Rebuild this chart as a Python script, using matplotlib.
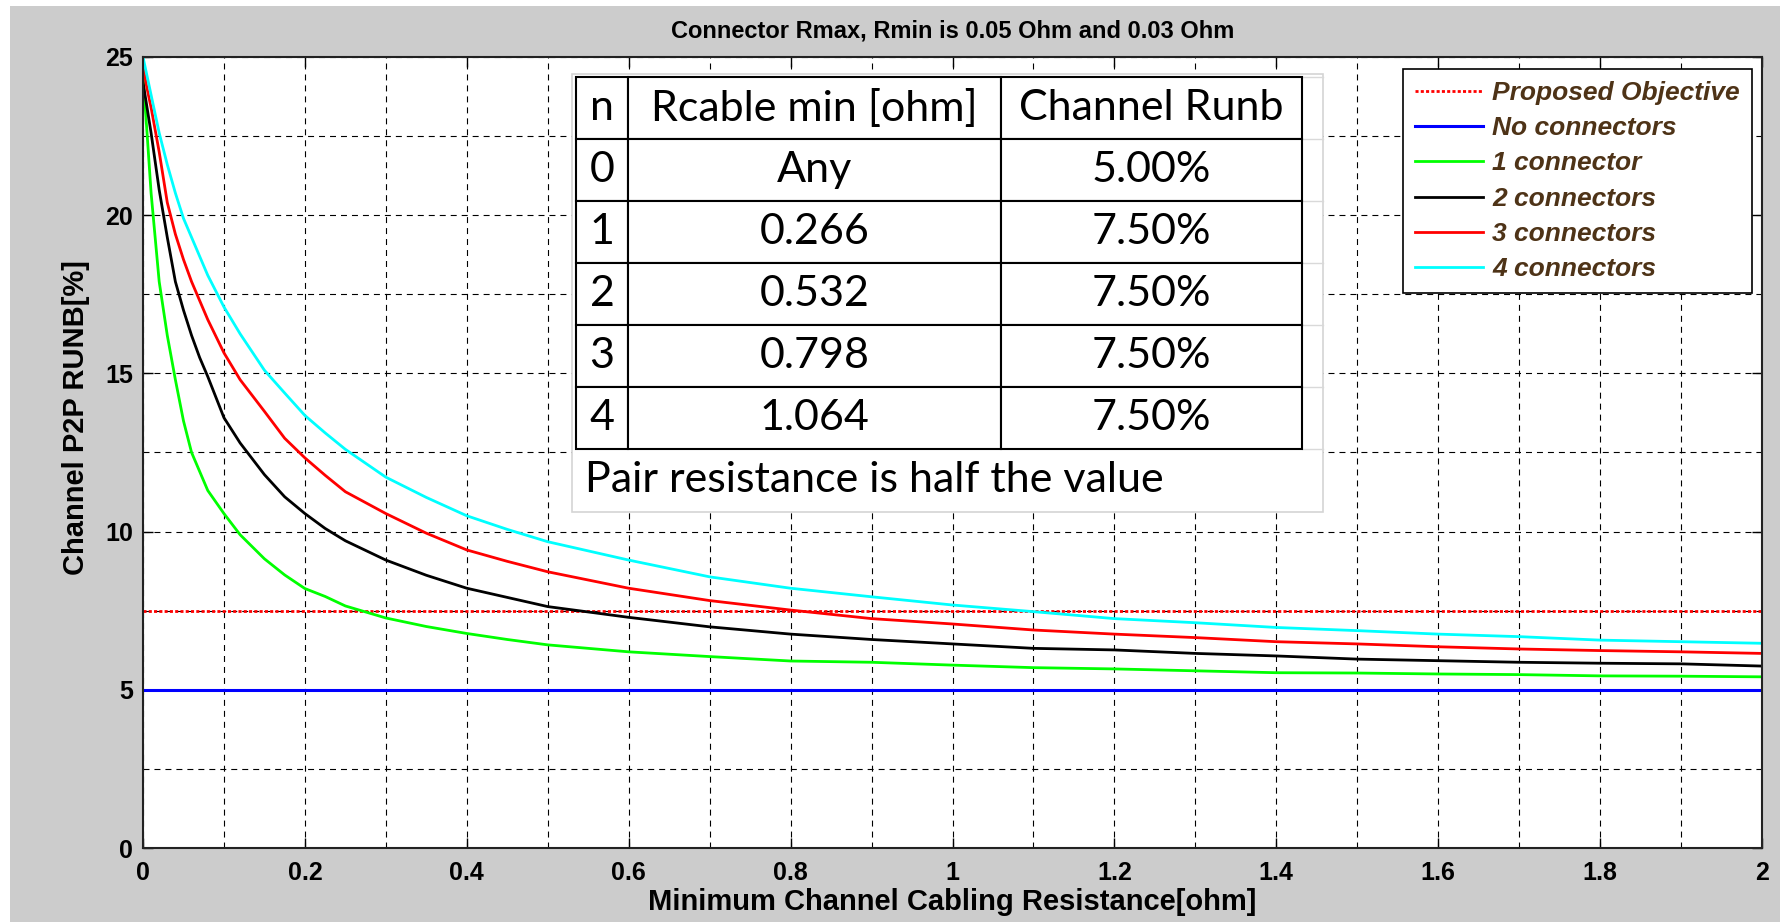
import matplotlib
matplotlib.use("Agg")
import matplotlib.pyplot as plt
from matplotlib.patches import Rectangle
from matplotlib.ticker import MultipleLocator

# values
r_cable = [0, 0.005, 0.01, 0.02, 0.03, 0.04, 0.05, 0.06, 0.07, 0.08, 0.1, 0.12, 0.15,
           0.175, 0.2, 0.225, 0.25, 0.3, 0.35, 0.4, 0.45, 0.5, 0.6, 0.7, 0.8, 0.9, 1.0,
           1.1, 1.2, 1.3, 1.4, 1.5, 1.6, 1.7, 1.8, 1.9, 2.0]

runb_1conn = [24.4, 22.6, 20.7, 17.9, 16.2, 14.8, 13.5, 12.5, 11.9, 11.3, 10.57, 9.9, 9.14,
              8.63, 8.2, 7.95, 7.65, 7.27, 7.0, 6.78, 6.59, 6.42, 6.2, 6.05, 5.91, 5.87, 5.78,
              5.70, 5.66, 5.60, 5.54, 5.53, 5.50, 5.48, 5.44, 5.43, 5.41]
runb_2conn = [24.2, 23.4, 22.6, 20.8, 19.3, 17.9, 17.0, 16.2, 15.5, 14.9, 13.6, 12.8, 11.8,
              11.1, 10.57, 10.1, 9.71, 9.1, 8.62, 8.21, 7.92, 7.63, 7.29, 6.99, 6.76, 6.59, 6.45,
              6.31, 6.26, 6.15, 6.07, 5.97, 5.92, 5.87, 5.84, 5.82, 5.75]
runb_3conn = [24.7, 24.0, 23.4, 22.0, 20.4, 19.4, 18.6, 17.9, 17.3, 16.7, 15.65, 14.8, 13.8,
              12.95, 12.33, 11.78, 11.26, 10.57, 9.95, 9.42, 9.06, 8.73, 8.21, 7.82, 7.52, 7.25,
              7.08, 6.89, 6.76, 6.65, 6.52, 6.45, 6.36, 6.29, 6.24, 6.20, 6.15]
runb_4conn = [25.0, 24.4, 23.8, 22.6, 21.6, 20.7, 19.9, 19.3, 18.7, 18.1, 17.1, 16.25, 15.1,
              14.38, 13.67, 13.12, 12.6, 11.72, 11.08, 10.5, 10.07, 9.68, 9.10, 8.57, 8.21, 7.94,
              7.68, 7.47, 7.25, 7.12, 6.97, 6.87, 6.76, 6.68, 6.57, 6.52, 6.47]

x_range = [0, 2]
runb_no_conn = [5.0, 5.0]
objective = [7.5, 7.5]

labels = ["Proposed Objective", "No connectors", "1 connector", "2 connectors",
          "3 connectors", "4 connectors"]

# the table in the picture
table_rows = [["n", "Rcable min [ohm]", "Channel Runb"],
              ["0", "Any", "5.00%"],
              ["1", "0.266", "7.50%"],
              ["2", "0.532", "7.50%"],
              ["3", "0.798", "7.50%"],
              ["4", "1.064", "7.50%"]]
table_note = "Pair resistance is half the value"

plt.rcParams["font.family"] = ["Liberation Sans", "DejaVu Sans"]
plt.rcParams["lines.scale_dashes"] = False

W, H = 1780, 922
fig = plt.figure(figsize=(W / 100, H / 100), dpi=100, facecolor="white")
fig.patches.append(Rectangle((10 / W, 0), 1, 1 - 6 / H, transform=fig.transFigure,
                             facecolor="#cccccc", edgecolor="none", zorder=-10))

ax_l, ax_r, ax_t, ax_b = 143, 1762, 57, 848
ax = fig.add_axes([ax_l / W, 1 - ax_b / H, (ax_r - ax_l) / W, (ax_b - ax_t) / H])
ax.set_facecolor("white")

ax.plot(x_range, objective, color="red", lw=2.0, linestyle=(0, (2.2, 1.6)), label=labels[0])
ax.plot(x_range, runb_no_conn, color="blue", lw=2.2, label=labels[1])
ax.plot(r_cable, runb_1conn, color="#00ff00", lw=2.0, label=labels[2])
ax.plot(r_cable, runb_2conn, color="black", lw=2.0, label=labels[3])
ax.plot(r_cable, runb_3conn, color="red", lw=2.0, label=labels[4])
ax.plot(r_cable, runb_4conn, color="cyan", lw=2.0, label=labels[5])

ax.set_xlim(0, 2)
ax.set_ylim(0, 25)
ax.xaxis.set_major_locator(MultipleLocator(0.2))
ax.xaxis.set_minor_locator(MultipleLocator(0.1))
ax.yaxis.set_major_locator(MultipleLocator(5))
ax.yaxis.set_minor_locator(MultipleLocator(2.5))
ax.xaxis.set_major_formatter(plt.FuncFormatter(lambda v, p: "%g" % round(v, 2)))

ax.grid(True, which="both", color="black", lw=0.8, linestyle=(0, (4.3, 3.6)))
ax.set_axisbelow(True)
ax.tick_params(which="major", direction="in", length=7, width=1.0, top=True, right=True,
               labelsize=18, pad=7)
ax.tick_params(which="minor", direction="in", length=0, top=True, right=True)
ax.tick_params(axis="x", pad=9)
for t in ax.get_xticklabels() + ax.get_yticklabels():
    t.set_fontweight("bold")
for s in ax.spines.values():
    s.set_linewidth(1.5)
    s.set_color("#222222")

fig.text((ax_l + ax_r) / 2 / W, 1 - 31 / H, "Connector Rmax, Rmin is 0.05 Ohm and 0.03 Ohm",
         ha="center", va="center", fontsize=17, fontweight="bold")
fig.text((ax_l + ax_r) / 2 / W, 1 - 902 / H, "Minimum Channel Cabling Resistance[ohm]",
         ha="center", va="center", fontsize=21, fontweight="bold")
fig.text(76 / W, 1 - 418 / H, "Channel P2P RUNB[%]", ha="center", va="center",
         rotation=90, fontsize=21, fontweight="bold")

leg = ax.legend(loc="upper right", bbox_to_anchor=(0.9938, 0.985), borderaxespad=0,
                fancybox=False, framealpha=1, edgecolor="black", handlelength=2.6,
                handletextpad=0.35, labelspacing=0.43, borderpad=0.45,
                prop={"family": "Liberation Sans", "weight": "bold", "style": "italic",
                      "size": 19},
                labelcolor="#4e3317")
leg.get_frame().set_linewidth(1.2)

# white excel-like box behind the table
def ax_x(px):
    return (px - ax_l) / (ax_r - ax_l)

def ax_y(py):
    return (ax_b - py) / (ax_b - ax_t)

ax.add_patch(Rectangle((ax_x(572), ax_y(512)), ax_x(1323) - ax_x(572), ax_y(74) - ax_y(512),
                       transform=ax.transAxes, facecolor="white", edgecolor="#d4d4d4",
                       lw=1.2, zorder=5))
row_edges = [77, 139, 201, 263, 325, 387, 449]
for py in row_edges:
    ax.plot([ax_x(1302), ax_x(1323)], [ax_y(py), ax_y(py)], transform=ax.transAxes,
            color="#d9d9d9", lw=1, zorder=5)

tbl = ax.table(cellText=table_rows, cellLoc="center",
               colWidths=[52 / 726, 373 / 726, 301 / 726],
               bbox=[ax_x(576), ax_y(449), ax_x(1302) - ax_x(576), ax_y(77) - ax_y(449)],
               zorder=6)
tbl.auto_set_font_size(False)
for (r, c), cell in tbl.get_celld().items():
    cell.set_edgecolor("black")
    cell.set_linewidth(1.5)
    cell.set_facecolor("white")
    cell.get_text().set_fontsize(31)
    cell.get_text().set_fontfamily("Lato")
    cell.get_text().set_color("black")
ax.text(ax_x(585), ax_y(480), table_note, transform=ax.transAxes, ha="left", va="center",
        fontsize=31, fontfamily="Lato", color="black", zorder=7)

fig.savefig("out.png", dpi=100, facecolor=fig.get_facecolor())
